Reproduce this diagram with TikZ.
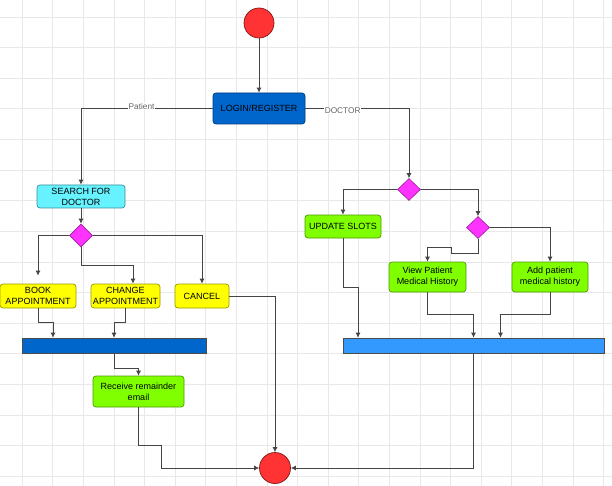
\documentclass[tikz,border=0pt]{standalone}
\usepackage{fontspec}
\setmainfont{Liberation Sans}
\usetikzlibrary{shapes.geometric,arrows.meta,calc}
\definecolor{startred}{HTML}{FF3333}
\definecolor{loginblue}{HTML}{0066CC}
\definecolor{barblue}{HTML}{3399FF}
\definecolor{searchcyan}{HTML}{66F2FF}
\definecolor{diamag}{HTML}{FF33FF}
\definecolor{boxyellow}{HTML}{FFFF00}
\definecolor{boxgreen}{HTML}{80FF00}
\definecolor{linegray}{HTML}{444444}
\definecolor{gridgray}{HTML}{E8E8E8}
\tikzset{
  box/.style={draw=#1!60!black, rounded corners=3pt, line width=0.7pt, align=center,
    font=\fontsize{9}{11}\selectfont, inner sep=1pt},
  yellowbox/.style={box=boxyellow, fill=boxyellow},
  greenbox/.style={box=boxgreen, fill=boxgreen},
  cyanbox/.style={box=searchcyan, fill=searchcyan},
  loginbox/.style={box=loginblue, fill=loginblue},
  decision/.style={diamond, draw=diamag!60!black, fill=diamag, line width=0.6pt, inner sep=0pt, minimum width=23pt, minimum height=23pt},
  terminal/.style={circle, draw=startred!50!black, fill=startred, line width=0.7pt, minimum size=30pt, inner sep=0pt},
  syncbar/.style={draw=black!70, fill=#1, line width=0.6pt, minimum height=15pt, inner sep=0pt},
  arr/.style={draw=linegray, line width=0.8pt, -{Latex[length=5pt,width=5pt]}},
  lbl/.style={font=\fontsize{8.3}{9}\selectfont, text=black!60, fill=white, inner sep=0.5pt}
}
\begin{document}
\begin{tikzpicture}[x=1pt,y=-1pt]
\useasboundingbox (0,0) rectangle (612,486);
\fill[white] (0,0) rectangle (612,486);
% grid
\foreach \i in {0,...,19} {
  \draw[gridgray, line width=0.6pt] ({22+30.6*\i},0) -- ({22+30.6*\i},486);
}
\foreach \i in {0,...,15} {
  \draw[gridgray, line width=0.6pt] (0,{17+30.6*\i}) -- (612,{17+30.6*\i});
}
% nodes
\node[terminal] (start) at (259,23) {};
\node[loginbox, minimum width=92pt, minimum height=31pt] (login) at (259,108.5) {LOGIN/REGISTER};
\node[cyanbox, minimum width=88pt, minimum height=23pt] (search) at (81,196.5) {SEARCH FOR\\DOCTOR};
\node[decision] (d1) at (81,235.5) {};
\node[yellowbox, minimum width=76pt, minimum height=24pt] (book) at (38,296) {BOOK\\APPOINTMENT};
\node[yellowbox, minimum width=69pt, minimum height=24pt] (change) at (125.5,296) {CHANGE\\APPOINTMENT};
\node[yellowbox, minimum width=54pt, minimum height=24pt] (cancel) at (202,296) {CANCEL};
\node[syncbar=loginblue, minimum width=184pt] (bar1) at (114,345.5) {};
\node[greenbox, minimum width=91pt, minimum height=31pt] (recv) at (138.5,391.5) {Receive remainder\\email};
\node[terminal, minimum size=31pt] (end) at (275,468) {};
\node[decision, minimum height=22pt] (d2) at (409,189.5) {};
\node[greenbox, minimum width=76pt, minimum height=23pt] (update) at (343,226.5) {UPDATE SLOTS};
\node[decision, minimum height=22pt] (d3) at (478,227.5) {};
\node[greenbox, minimum width=77pt, minimum height=30pt] (view) at (427.5,277) {View Patient\\Medical History};
\node[greenbox, minimum width=76pt, minimum height=30pt] (add) at (550,277) {Add patient\\medical history};
\node[syncbar=barblue, minimum width=261pt] (bar2) at (473.5,345.5) {};
% connectors
\draw[arr] (start) -- (login);
\draw[arr] (login.west) -| node[lbl, pos=0.27, yshift=2pt] {Patient} (search.north);
\draw[arr] (login.east) -| node[lbl, pos=0.18, yshift=-2.5pt] {DOCTOR} (d2.north);
\draw[arr] (search) -- (d1);
\draw[arr, shorten >=8pt] (d1.west) -| (book.north);
\draw[arr] (d1.south) -- ++(0,18) -| ([xshift=7.5pt]change.north);
\draw[arr] (d1.east) -| (cancel.north);
\draw[arr] (book.south) -- ++(0,14) -| ([xshift=-61pt]bar1.north);
\draw[arr] (change.south) -- ++(0,14) -| (bar1.north);
\draw[arr] (bar1.south) -- ++(0,15.5) -| (recv.north);
\draw[arr] (recv.south) -- ++(0,38) -- ++(22.5,0) |- (end.west);
\draw[arr] (cancel.east) -| (end.north);
\draw[arr] (d2.west) -| (update.north);
\draw[arr] (d2.east) -| (d3.north);
\draw[arr] (d3.south) -- ++(0,14.5) -- ++(-27,0) -- ++(0,-6) -| (view.north);
\draw[arr] (d3.east) -| (add.north);
\draw[arr] (update.south) -- ++(0,49.5) -| ([xshift=-115.5pt]bar2.north);
\draw[arr] (view.south) -- ++(0,22) -| (bar2.north);
\draw[arr] (add.south) -- ++(0,22) -| ([xshift=27pt]bar2.north);
\draw[arr] (bar2.south) |- (end.east);
\end{tikzpicture}
\end{document}
